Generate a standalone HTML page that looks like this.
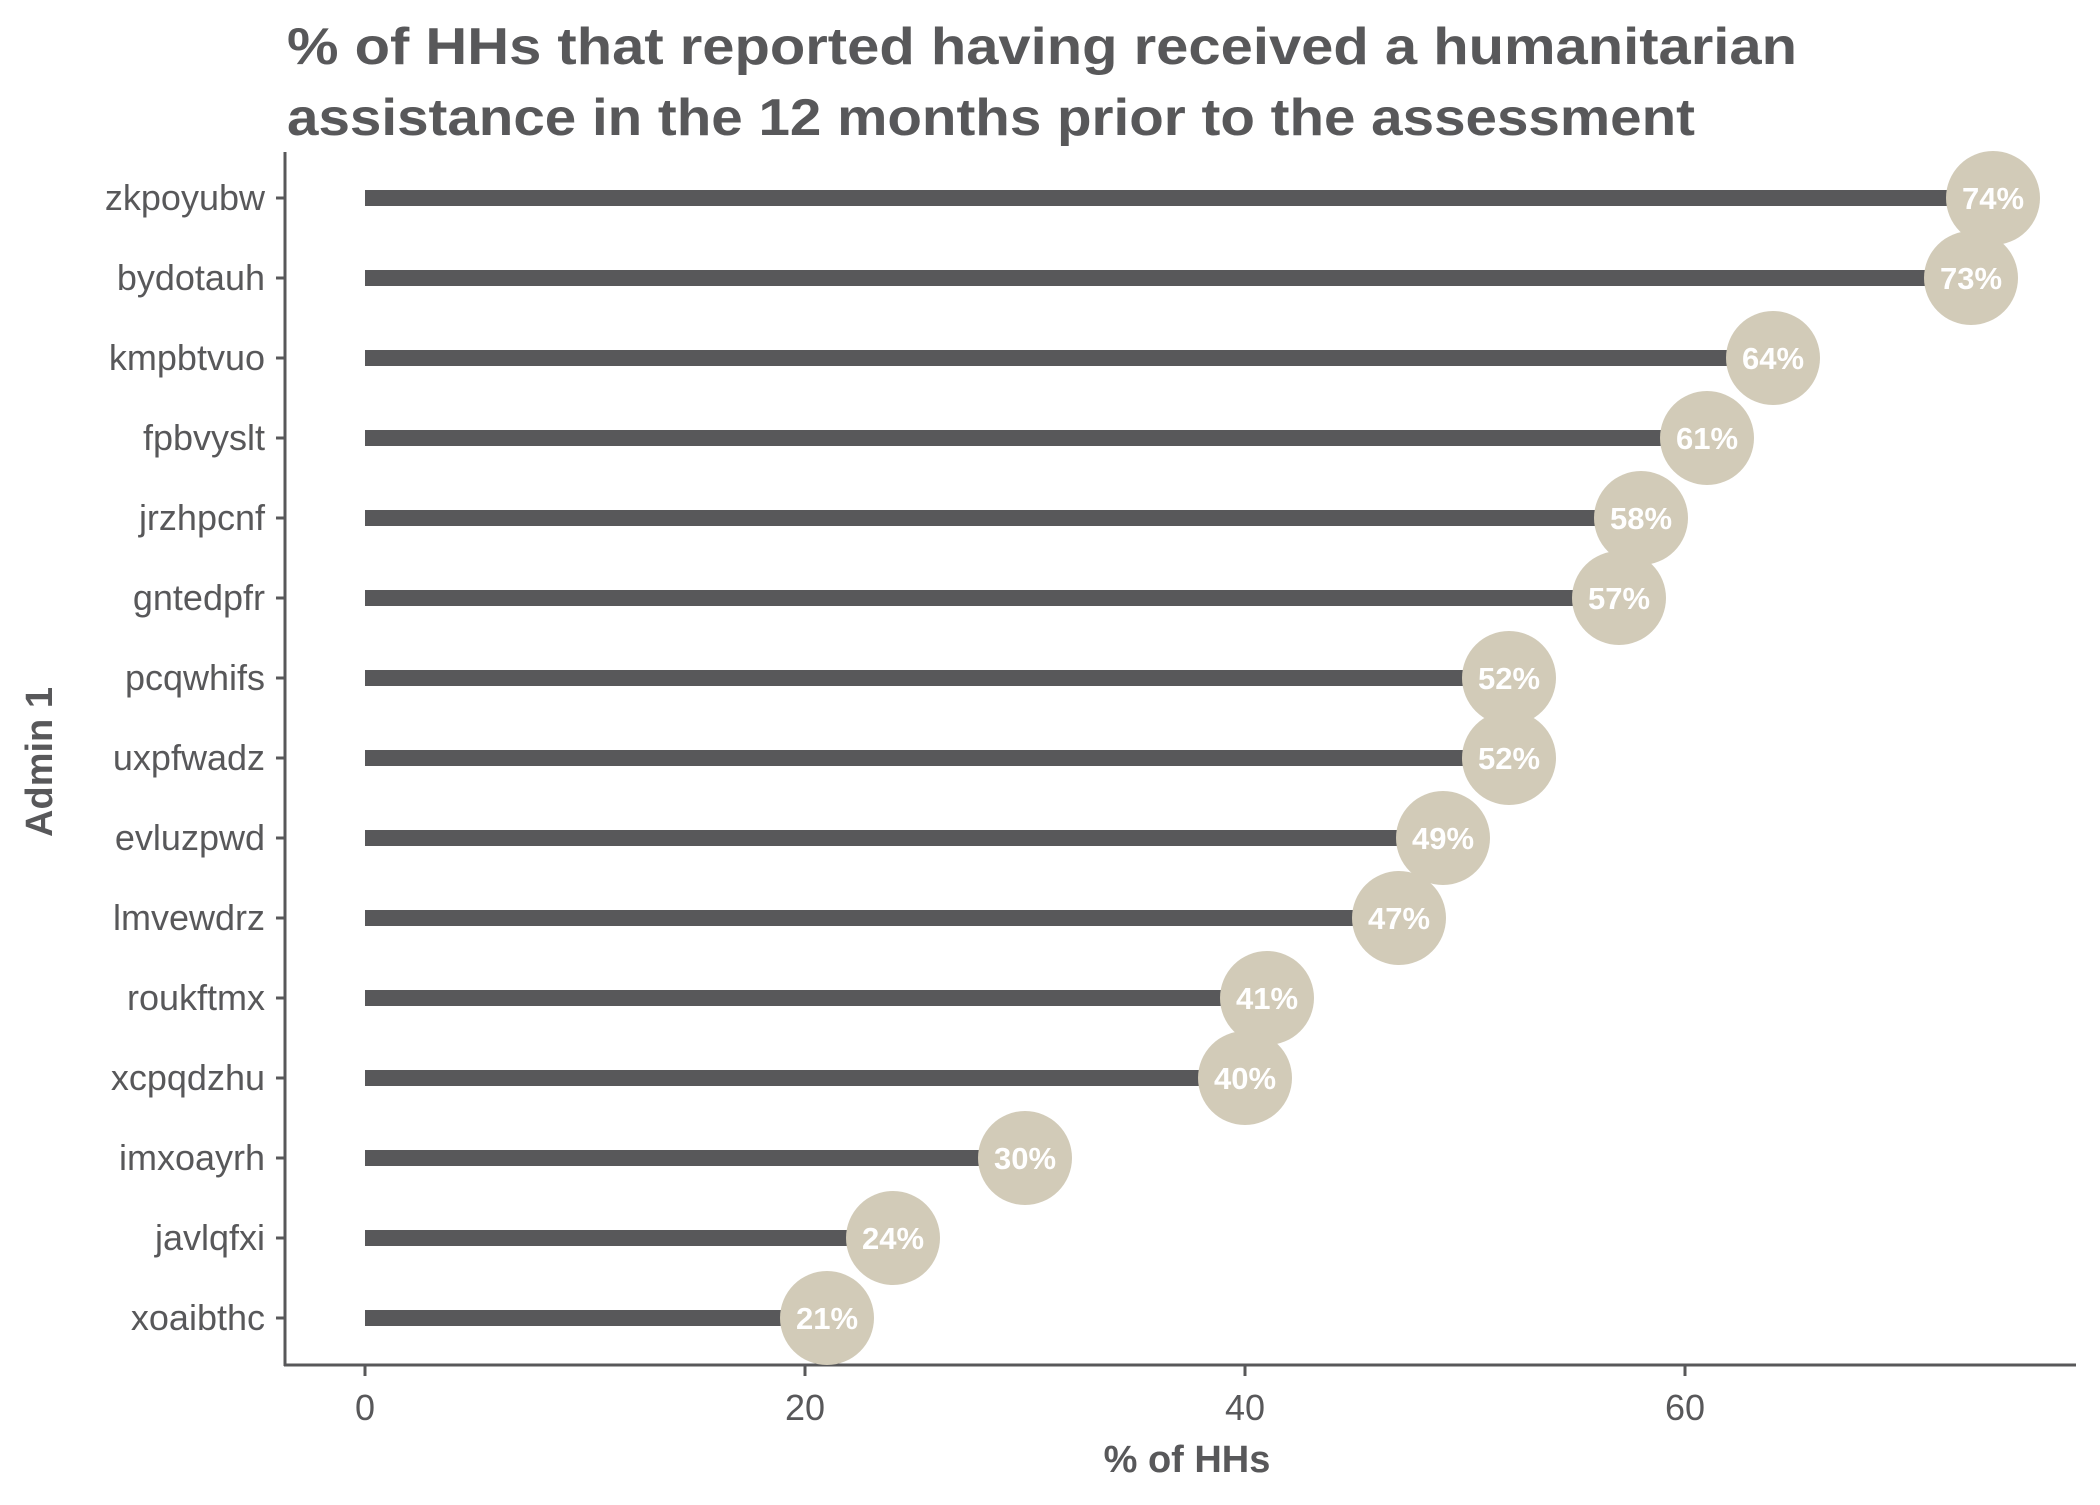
<!DOCTYPE html>
<html><head><style>html,body{margin:0;padding:0;background:#fff}</style></head>
<body>
<svg width="2100" height="1500" xmlns="http://www.w3.org/2000/svg" font-family="Liberation Sans, sans-serif">
<rect width="2100" height="1500" fill="#fff"/>
<g fill="#58585a" font-weight="bold" font-size="52">
<text x="287" y="64" textLength="1510" lengthAdjust="spacingAndGlyphs">% of HHs that reported having received a humanitarian</text>
<text x="287" y="135" textLength="1408" lengthAdjust="spacingAndGlyphs">assistance in the 12 months prior to the assessment</text>
</g>
<g stroke="#58585a" stroke-width="3">
<line x1="285" y1="152" x2="285" y2="1366"/>
<line x1="284" y1="1365" x2="2076" y2="1365"/>
<line x1="365" y1="1366" x2="365" y2="1376"/><line x1="805" y1="1366" x2="805" y2="1376"/><line x1="1245" y1="1366" x2="1245" y2="1376"/><line x1="1685" y1="1366" x2="1685" y2="1376"/>
</g>
<g fill="#58585a" font-size="36" text-anchor="middle">
<text x="365" y="1420">0</text><text x="805" y="1420">20</text><text x="1245" y="1420">40</text><text x="1685" y="1420">60</text>
</g>
<text x="1187" y="1472" fill="#58585a" font-size="38" font-weight="bold" text-anchor="middle">% of HHs</text>
<text transform="translate(52,762) rotate(-90)" fill="#58585a" font-size="38" font-weight="bold" text-anchor="middle">Admin 1</text>
<g fill="#58585a" font-size="36" text-anchor="end">
<text x="265" y="210">zkpoyubw</text><text x="265" y="290">bydotauh</text><text x="265" y="370">kmpbtvuo</text><text x="265" y="450">fpbvyslt</text><text x="265" y="530">jrzhpcnf</text><text x="265" y="610">gntedpfr</text><text x="265" y="690">pcqwhifs</text><text x="265" y="770">uxpfwadz</text><text x="265" y="850">evluzpwd</text><text x="265" y="930">lmvewdrz</text><text x="265" y="1010">roukftmx</text><text x="265" y="1090">xcpqdzhu</text><text x="265" y="1170">imxoayrh</text><text x="265" y="1250">javlqfxi</text><text x="265" y="1330">xoaibthc</text>
</g>
<g stroke="#58585a" stroke-width="3">
<line x1="276" x2="285" y1="198" y2="198"/><line x1="276" x2="285" y1="278" y2="278"/><line x1="276" x2="285" y1="358" y2="358"/><line x1="276" x2="285" y1="438" y2="438"/><line x1="276" x2="285" y1="518" y2="518"/><line x1="276" x2="285" y1="598" y2="598"/><line x1="276" x2="285" y1="678" y2="678"/><line x1="276" x2="285" y1="758" y2="758"/><line x1="276" x2="285" y1="838" y2="838"/><line x1="276" x2="285" y1="918" y2="918"/><line x1="276" x2="285" y1="998" y2="998"/><line x1="276" x2="285" y1="1078" y2="1078"/><line x1="276" x2="285" y1="1158" y2="1158"/><line x1="276" x2="285" y1="1238" y2="1238"/><line x1="276" x2="285" y1="1318" y2="1318"/>
</g>
<g fill="#58585a">
<rect x="365" y="190" width="1628" height="16"/><rect x="365" y="270" width="1606" height="16"/><rect x="365" y="350" width="1408" height="16"/><rect x="365" y="430" width="1342" height="16"/><rect x="365" y="510" width="1276" height="16"/><rect x="365" y="590" width="1254" height="16"/><rect x="365" y="670" width="1144" height="16"/><rect x="365" y="750" width="1144" height="16"/><rect x="365" y="830" width="1078" height="16"/><rect x="365" y="910" width="1034" height="16"/><rect x="365" y="990" width="902" height="16"/><rect x="365" y="1070" width="880" height="16"/><rect x="365" y="1150" width="660" height="16"/><rect x="365" y="1230" width="528" height="16"/><rect x="365" y="1310" width="462" height="16"/>
</g>
<g fill="#d2cbb8">
<circle cx="1993" cy="198" r="47"/><circle cx="1971" cy="278" r="47"/><circle cx="1773" cy="358" r="47"/><circle cx="1707" cy="438" r="47"/><circle cx="1641" cy="518" r="47"/><circle cx="1619" cy="598" r="47"/><circle cx="1509" cy="678" r="47"/><circle cx="1509" cy="758" r="47"/><circle cx="1443" cy="838" r="47"/><circle cx="1399" cy="918" r="47"/><circle cx="1267" cy="998" r="47"/><circle cx="1245" cy="1078" r="47"/><circle cx="1025" cy="1158" r="47"/><circle cx="893" cy="1238" r="47"/><circle cx="827" cy="1318" r="47"/>
</g>
<g fill="#fff" font-size="31" font-weight="bold" text-anchor="middle">
<text x="1993" y="209">74%</text><text x="1971" y="289">73%</text><text x="1773" y="369">64%</text><text x="1707" y="449">61%</text><text x="1641" y="529">58%</text><text x="1619" y="609">57%</text><text x="1509" y="689">52%</text><text x="1509" y="769">52%</text><text x="1443" y="849">49%</text><text x="1399" y="929">47%</text><text x="1267" y="1009">41%</text><text x="1245" y="1089">40%</text><text x="1025" y="1169">30%</text><text x="893" y="1249">24%</text><text x="827" y="1329">21%</text>
</g>
</svg>
</body></html>
